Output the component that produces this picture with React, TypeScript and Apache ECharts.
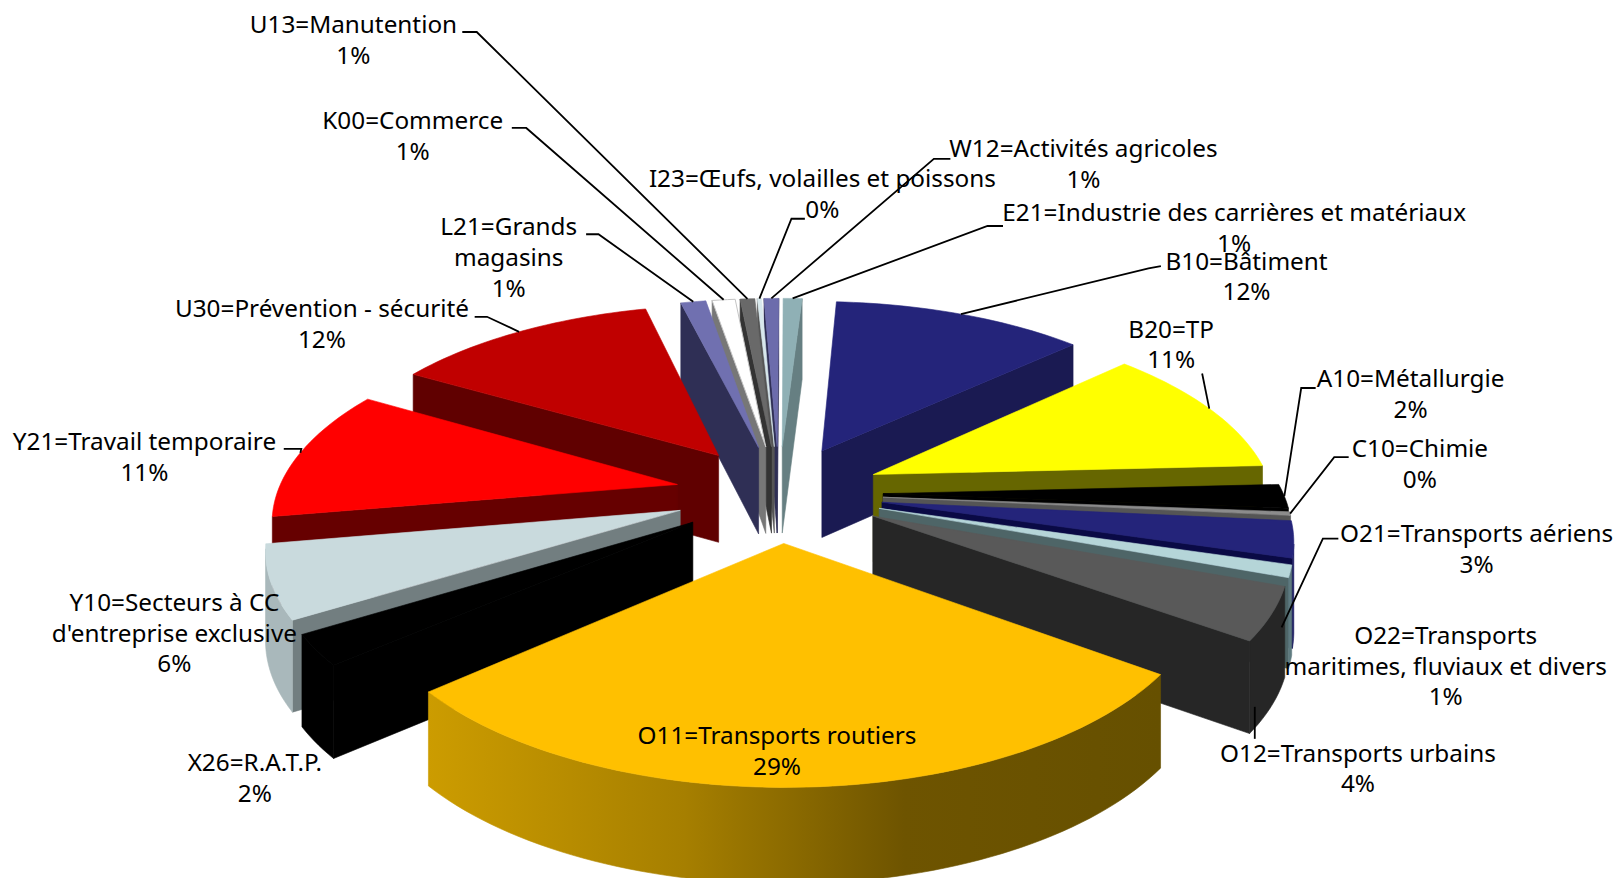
import React, { useEffect, useRef } from "react";
import * as echarts from "echarts";

const codes = ["B10=Bâtiment","B20=TP","A10=Métallurgie","C10=Chimie","O21=Transports aériens","O22=Transports\nmaritimes, fluviaux et divers","O12=Transports urbains","O11=Transports routiers","X26=R.A.T.P.","Y10=Secteurs à CC\nd'entreprise exclusive","Y21=Travail temporaire","U30=Prévention - sécurité","L21=Grands\nmagasins","K00=Commerce","U13=Manutention","I23=Œufs, volailles et poissons","W12=Activités agricoles","E21=Industrie des carrières et matériaux"];
const shares = [12, 11, 2, 0.3, 3, 1, 4.3, 28.5, 2.5, 6, 11, 12.6, 1.2, 1.1, 0.7, 0.2, 0.7, 0.9];
const shareLabels = ["12%","11%","2%","0%","3%","1%","4%","29%","2%","6%","11%","12%","1%","1%","1%","0%","1%","1%"];
const topColors = ["#24247A","#FFFF00","#000000","#8C8C8C","#24247A","#B5D5D8","#595959","#FFC000","#000000","#C9DADD","#FF0000","#C00000","#7070B0","#FFFFFF","#696969","#D8E8EC","#6C6CAC","#8FB0B5"];
const wallColors = ["#1A1A52","#666600","#000000","#555555","#0A0A45","#4E6567","#262626","#6B5000","#000000","#727E80","#660000","#600000","#2F2F55","#777777","#333333","#555555","#2F2F55","#667F82"];
const outerColors = ["#1A1A52","#666600","#000000","#555555","#1A1A60","#5F7B80","#262626","#6B5000","#000000","#A9B8BB","#660000","#600000","#2F2F55","#777777","#333333","#555555","#2F2F55","#667F82"];

// Layout, in the reference's 1568-wide coordinates
const S = 1618 / 1568;
const labelPos = [[1208,252],[1135,318],[1367,366],[1376,434],[1431,516],[1401,615],[1316,729],[753,712],[247,738],[169,583],[140,427],[312,298],[493,219],[400,116],[342.5,23],[797,172],[1050,143],[1196,205]];
const leaders: (number[][] | null)[] = [
  [[1125,258],[1113,260]],[[1165,362]],[[1275,376],[1261,376]],[[1307,443],[1293,443]],[[1297,522],[1282,522],[1242,608]],null,[[1216,716],[1216,685]],null,null,null,[[275,435],[292,435]],[[460,307],[472,307]],[[568,227],[580,227]],[[496,124],[510,124]],[[448,31],[462,31]],[[780,212],[767,212]],[[921,154],[905,154]],[[972,219],[957,219]],
];
const leaderTyped = [4, 6];

const startDeg = 3.5;
const CX = 779, CY = 493, RX = 400, RY = 186, P = 0.162, PH = 0.07, H = 88, EXPLODE = 0.26, FS = 24.3;
const total = shares.reduce((a, b) => a + b, 0);
const rad = (d: number) => (d * Math.PI) / 180;
const proj = (X: number, Y: number, Z: number) => {
  const w = 1 / (1 + P * Y);
  return [CX + RX * X * w, CY - RY * Y * w - (H * Z) / (1 + PH * Y)];
};
const angles = (i: number) => {
  let s = 0;
  for (let k = 0; k < i; k++) s += shares[k];
  const a0 = startDeg + (s / total) * 360;
  return [a0, a0 + (shares[i] / total) * 360];
};
const slicePt = (i: number, a: number, r: number, z: number) => {
  const [a0, a1] = angles(i);
  const m = rad((a0 + a1) / 2);
  return proj(Math.sin(rad(a)) * r + Math.sin(m) * EXPLODE, Math.cos(rad(a)) * r + Math.cos(m) * EXPLODE, z);
};
const area = (p: number[][]) => {
  let t = 0;
  p.forEach((q, i) => { const n = p[(i + 1) % p.length]; t += q[0] * n[1] - n[0] * q[1]; });
  return t;
};
const depthOrder = shares.map((_, i) => i).sort((x, y) => {
  const b = (i: number) => { const [a, c] = angles(i); return Math.cos(rad((a + c) / 2)); };
  return b(y) - b(x);
});

const poly = (points: number[][], fill: any, stroke?: string) => ({ type: "polygon", shape: { points }, style: { fill, stroke: stroke || fill, lineWidth: stroke ? 1 : 0.6 } });

const renderSlice = (_: any, api: any) => {
  const i = api.value(0);
  const [a0, a1] = angles(i);
  const n = Math.max(2, Math.ceil((a1 - a0) / 1.5));
  const arc = Array.from({ length: n + 1 }, (_, k) => a0 + ((a1 - a0) * k) / n);
  const top = arc.map((a) => slicePt(i, a, 1, 0));
  const bot = arc.map((a) => slicePt(i, a, 1, -1));
  const at = slicePt(i, a0, 0, 0), ab = slicePt(i, a0, 0, -1);
  const children: any[] = [];
  const w0 = [at, top[0], bot[0], ab];
  const w1 = [at, top[n], bot[n], ab];
  if (area(w0) < 0) children.push(poly(w0, wallColors[i]));
  if (area(w1) > 0) children.push(poly(w1, wallColors[i]));
  let first = -1, last = -1;
  for (let k = 0; k < n; k++) {
    if (area([top[k], top[k + 1], bot[k + 1], bot[k]]) < 0) { if (first < 0) first = k; last = k + 1; }
  }
  if (first >= 0) {
    const fill = codes[i].startsWith("O11")
      ? new echarts.graphic.LinearGradient(0, 0, 1, 0, [{ offset: 0, color: "#CC9C00" }, { offset: 0.35, color: "#A67F00" }, { offset: 0.65, color: "#6E5400" }, { offset: 1, color: "#665000" }])
      : outerColors[i];
    children.push(poly([...top.slice(first, last + 1), ...bot.slice(first, last + 1).reverse()], fill));
  }
  children.push(poly([at, ...top], topColors[i], topColors[i] === "#FFFFFF" ? "#C4C4C4" : undefined));
  return { type: "group", children };
};

const renderLabel = (_: any, api: any) => {
  const i = api.value(0);
  const [a0, a1] = angles(i);
  const [x, y] = labelPos[i];
  const lh = 30.6;
  const children: any[] = [{
    type: "text",
    x: x * S,
    y: y * S - lh / 2,
    style: { text: codes[i] + "\n" + shareLabels[i], fill: "#000", fontFamily: "Noto Sans", fontSize: FS, lineHeight: lh, textAlign: "center", textVerticalAlign: "top" },
  }];
  const l = leaders[i];
  if (l) {
    const pts = l.map((p) => [p[0] * S, p[1] * S]);
    if (!leaderTyped.includes(i)) pts.push(slicePt(i, (a0 + a1) / 2, 1, 0));
    children.push({ type: "polyline", shape: { points: pts }, style: { fill: "none", stroke: "#000", lineWidth: 1.8 } });
  }
  return { type: "group", children };
};

export default function App() {
  const ref = useRef<HTMLDivElement>(null);
  useEffect(() => {
    const chart = echarts.init(ref.current!, undefined, { renderer: "svg" });
    chart.setOption({
      animation: false,
      backgroundColor: "#fff",
      series: [
        { type: "custom", coordinateSystem: "none", silent: true, z: 2, renderItem: renderSlice, data: depthOrder.map((i) => [i, shares[i]]) },
        { type: "custom", coordinateSystem: "none", silent: true, z: 5, renderItem: renderLabel, data: shares.map((v, i) => [i, v]) },
      ],
    });
    return () => chart.dispose();
  }, []);
  return <div ref={ref} style={{ position: "absolute", left: 0, top: 0, width: 1618, height: 878, overflow: "hidden" }} />;
}
